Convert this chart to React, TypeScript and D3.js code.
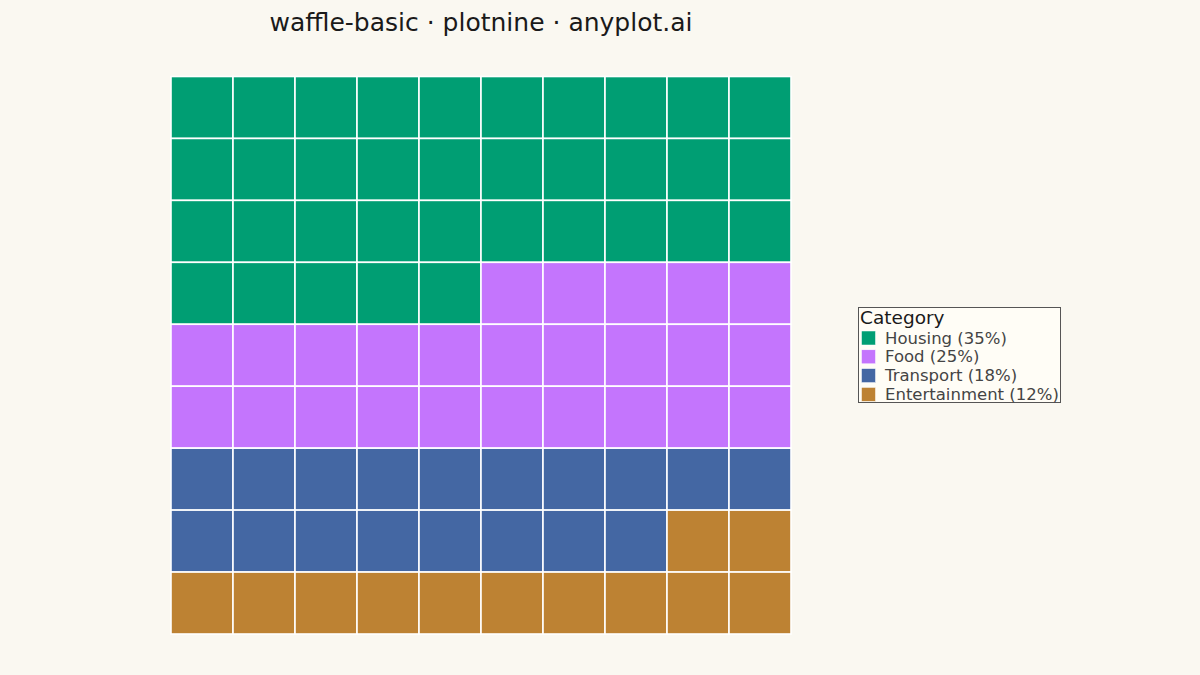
import React, { useEffect } from 'react';
import * as d3 from 'd3';

const categories = ['Housing', 'Food', 'Transport', 'Entertainment'];
const counts = [35, 25, 18, 12];
const colors = ['#009E73', '#C475FD', '#4467A3', '#BD8233'];
const columns = d3.range(10);
const rows = d3.range(9);

interface Cell {
  col: number;
  row: number;
  category: string;
}

const cells: Cell[] = [];
categories.forEach((cat, ci) => {
  for (let k = 0; k < counts[ci]; k++) {
    const idx = cells.length;
    cells.push({ col: idx % columns.length, row: Math.floor(idx / columns.length), category: cat });
  }
});

const legendLabels = categories.map((c, i) => `${c} (${counts[i]}%)`);

const App: React.FC = () => {
  const width = 1200;
  const height = 675;
  const panel = { left: 171, right: 791, top: 76.5, bottom: 634 };

  useEffect(() => {
    document.body.style.margin = '0';
    document.body.style.background = '#FAF8F1';
  }, []);

  const x = d3.scaleBand<number>().domain(columns).range([panel.left, panel.right]);
  const y = d3.scaleBand<number>().domain(rows).range([panel.top, panel.bottom]);
  const color = d3.scaleOrdinal<string, string>().domain(categories).range(colors);

  const legend = { x: 858.5, y: 307.5, w: 202, h: 95 };

  return (
    <div style={{ position: 'fixed', left: 0, top: 0 }}>
      <svg width={width} height={height} style={{ display: 'block', fontFamily: 'DejaVu Sans, sans-serif' }}>
        <rect width={width} height={height} fill="#FAF8F1" />
        <text x={(panel.left + panel.right) / 2} y={31} textAnchor="middle" fontSize={25} fill="#1a1a1a">
          waffle-basic · plotnine · anyplot.ai
        </text>

        {cells.map((c, i) => (
          <rect
            key={i}
            x={x(c.col)}
            y={y(c.row)}
            width={x.bandwidth()}
            height={y.bandwidth()}
            fill={color(c.category)}
            stroke="#ffffff"
            strokeWidth={1.6}
          />
        ))}

        <g>
          <rect x={legend.x} y={legend.y} width={legend.w} height={legend.h} fill="#FFFDF6" stroke="#555" strokeWidth={1} />
          <text x={legend.x + 1.5} y={legend.y + 16.5} fontSize={18.5} fill="#1a1a1a">Category</text>
          {categories.map((cat, i) => (
            <g key={cat} transform={`translate(${legend.x + 3}, ${legend.y + 23.5 + i * 18.8})`}>
              <rect width={14} height={14} fill={color(cat)} stroke="#ffffff" strokeWidth={0.5} />
              <text x={23.5} y={12.5} fontSize={16.5} fill="#444">{legendLabels[i]}</text>
            </g>
          ))}
        </g>
      </svg>
    </div>
  );
};

export default App;
